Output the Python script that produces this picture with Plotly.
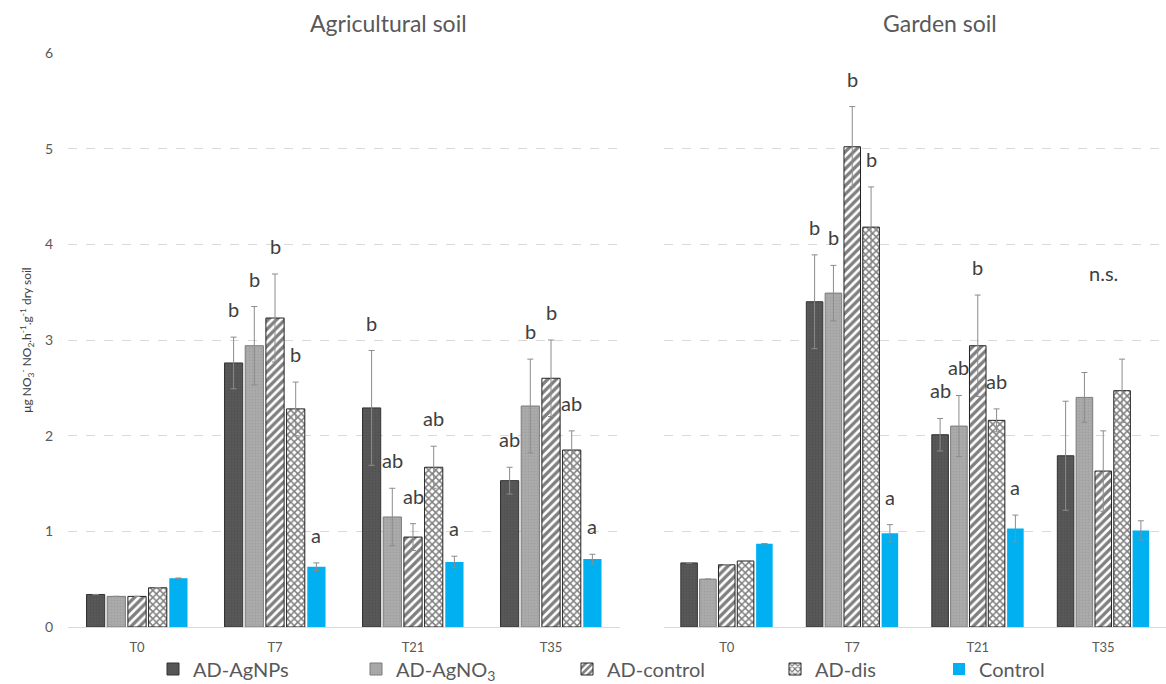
import plotly.graph_objects as go

categories = ["T0", "T7", "T21", "T35"]
series_names = ["AD-AgNPs", "AD-AgNO<sub>3</sub>", "AD-control", "AD-dis", "Control"]
panels = ["Agricultural soil", "Garden soil"]

# Agricultural soil
agri_agnps = [0.34, 2.76, 2.29, 1.53]
agri_agno3 = [0.32, 2.94, 1.15, 2.31]
agri_adcontrol = [0.32, 3.23, 0.94, 2.60]
agri_addis = [0.41, 2.28, 1.67, 1.85]
agri_control = [0.51, 0.63, 0.68, 0.71]

agri_agnps_err = [None, 0.27, 0.60, 0.14]
agri_agno3_err = [None, 0.41, 0.30, 0.49]
agri_adcontrol_err = [None, 0.46, 0.14, 0.40]
agri_addis_err = [None, 0.28, 0.22, 0.20]
agri_control_err = [None, 0.04, 0.06, 0.05]

agri_agnps_lbl = ["", "b", "b", "ab"]
agri_agno3_lbl = ["", "b", "ab", "b"]
agri_adcontrol_lbl = ["", "b", "ab", "b"]
agri_addis_lbl = ["", "b", "ab", "ab"]
agri_control_lbl = ["", "a", "a", "a"]

# Garden soil
gard_agnps = [0.67, 3.40, 2.01, 1.79]
gard_agno3 = [0.50, 3.49, 2.10, 2.40]
gard_adcontrol = [0.65, 5.02, 2.94, 1.63]
gard_addis = [0.69, 4.18, 2.16, 2.47]
gard_control = [0.87, 0.98, 1.03, 1.01]

gard_agnps_err = [None, 0.49, 0.17, 0.57]
gard_agno3_err = [None, 0.29, 0.32, 0.26]
gard_adcontrol_err = [None, 0.42, 0.53, 0.42]
gard_addis_err = [None, 0.42, 0.12, 0.33]
gard_control_err = [None, 0.09, 0.14, 0.10]

gard_agnps_lbl = ["", "b", "ab", ""]
gard_agno3_lbl = ["", "b", "ab", ""]
gard_adcontrol_lbl = ["", "b", "b", ""]
gard_addis_lbl = ["", "b", "ab", ""]
gard_control_lbl = ["", "a", "a", ""]
gard_group_note = ["", "", "", "n.s."]

y_ticks = [0, 1, 2, 3, 4, 5, 6]

agri_vals = [agri_agnps, agri_agno3, agri_adcontrol, agri_addis, agri_control]
agri_errs = [agri_agnps_err, agri_agno3_err, agri_adcontrol_err, agri_addis_err, agri_control_err]
agri_lbls = [agri_agnps_lbl, agri_agno3_lbl, agri_adcontrol_lbl, agri_addis_lbl, agri_control_lbl]
gard_vals = [gard_agnps, gard_agno3, gard_adcontrol, gard_addis, gard_control]
gard_errs = [gard_agnps_err, gard_agno3_err, gard_adcontrol_err, gard_addis_err, gard_control_err]
gard_lbls = [gard_agnps_lbl, gard_agno3_lbl, gard_adcontrol_lbl, gard_addis_lbl, gard_control_lbl]

FONT = "Lato, 'Open Sans', sans-serif"
TXT = "#595959"
W, H = 1166, 684
ML, MR, MT, MB = 68, 0, 53, 57
PW = W - ML - MR

styles = [
    dict(color="#555555", line=dict(color="#333333", width=1),
         pattern=dict(shape=".", fgcolor="#474747", bgcolor="#585858", size=3, solidity=0.3)),
    dict(color="#a6a6a6", line=dict(color="#7a7a7a", width=1),
         pattern=dict(shape=".", fgcolor="#959595", bgcolor="#ababab", size=3, solidity=0.3)),
    dict(color="white", line=dict(color="#222222", width=1),
         pattern=dict(shape="/", fgcolor="#000000", bgcolor="white", size=6, solidity=0.55)),
    dict(color="white", line=dict(color="#222222", width=1),
         pattern=dict(shape="x", fgcolor="#000000", bgcolor="white", size=5, solidity=0.5)),
    dict(color="#00b0f0", line=dict(color="#00b0f0", width=0)),
]

# legend text start positions (px) for each series, one legend box per series
legend_text_px = [197, 400, 611, 819, 983]
legend_ids = ["legend", "legend2", "legend3", "legend4", "legend5"]

xpos = list(range(len(categories)))
fig = go.Figure()
bargap = 0.25
slot = (1 - bargap) / len(series_names)

annotations = []
for p, (vals, errs, lbls) in enumerate([(agri_vals, agri_errs, agri_lbls),
                                        (gard_vals, gard_errs, gard_lbls)]):
    xa = "x" if p == 0 else "x2"
    ya = "y" if p == 0 else "y2"
    for j, name in enumerate(series_names):
        fig.add_trace(go.Bar(
            x=xpos, y=vals[j], name=name, xaxis=xa, yaxis=ya,
            marker=styles[j], legendgroup=name, showlegend=(p == 0),
            legend=legend_ids[j],
            error_y=dict(type="data", array=errs[j], visible=True,
                         color="#8c8c8c", thickness=1, width=3),
        ))
        for i in xpos:
            if lbls[j][i]:
                top = vals[j][i] + (errs[j][i] or 0)
                annotations.append(dict(
                    x=i + (j - (len(series_names) - 1) / 2) * slot, y=top,
                    xref=xa, yref=ya, text=lbls[j][i], showarrow=False,
                    xanchor="center", yanchor="bottom", yshift=14,
                    font=dict(family=FONT, size=20, color="#404040")))
    if p == 1:
        for i in xpos:
            if gard_group_note[i]:
                top = max(vals[k][i] + (errs[k][i] or 0) for k in range(len(series_names)))
                annotations.append(dict(
                    x=i, y=top, xref=xa, yref=ya, text=gard_group_note[i],
                    showarrow=False, xanchor="center", yanchor="bottom", yshift=72,
                    font=dict(family=FONT, size=20, color="#404040")))

left_dom = [0.0, 552 / PW]
right_dom = [596 / PW, 1.0]
title_px = [388, 940]
for k in range(2):
    annotations.append(dict(x=(title_px[k] - ML) / PW, y=1.0, xref="paper", yref="paper",
                            text=panels[k], showarrow=False, xanchor="center",
                            yanchor="bottom", yshift=14,
                            font=dict(family=FONT, size=23, color=TXT)))

xaxis_common = dict(tickmode="array", tickvals=xpos, ticktext=categories,
                    range=[-0.5, len(categories) - 0.5], showgrid=False, zeroline=False,
                    showline=True, linecolor="#d9d9d9", linewidth=1, ticks="",
                    ticklabelstandoff=8, automargin=False,
                    tickfont=dict(family=FONT, size=13, color=TXT))
yaxis_common = dict(range=[0, 6], tickvals=y_ticks, showgrid=True, gridcolor="#d9d9d9",
                    griddash="dash", gridwidth=1, zeroline=False, showline=False, ticks="",
                    automargin=False,
                    tickfont=dict(family=FONT, size=14, color=TXT))

layout_legends = {}
for j, lid in enumerate(legend_ids):
    layout_legends[lid] = dict(
        xref="container", yref="container",
        x=(legend_text_px[j] - 44) / W, xanchor="left",
        y=(H - 669) / H, yanchor="middle",
        orientation="h", bgcolor="rgba(0,0,0,0)",
        font=dict(family=FONT, size=20, color=TXT), itemwidth=30)

fig.update_layout(
    width=W, height=H,
    margin=dict(l=ML, r=MR, t=MT, b=MB, autoexpand=False),
    paper_bgcolor="white", plot_bgcolor="white",
    barmode="group", bargap=bargap, bargroupgap=0.12,
    font=dict(family=FONT, color=TXT),
    xaxis=dict(domain=left_dom, anchor="y", **xaxis_common),
    yaxis=dict(domain=[0, 1], anchor="x", showticklabels=True, ticklabelstandoff=14,
               title=dict(text="μg NO<sub>3</sub><sup>-</sup> NO<sub>2</sub>.h<sup>-1</sup>.g<sup>-1</sup> dry soil",
                          font=dict(family=FONT, size=12, color="#404040"), standoff=10),
               **yaxis_common),
    xaxis2=dict(domain=right_dom, anchor="y2", **xaxis_common),
    yaxis2=dict(domain=[0, 1], anchor="x2", showticklabels=False, **yaxis_common),
    annotations=annotations,
    **layout_legends,
)

fig.write_html("out.html", config={"displayModeBar": False},
               post_script="document.body.style.margin='0';")
